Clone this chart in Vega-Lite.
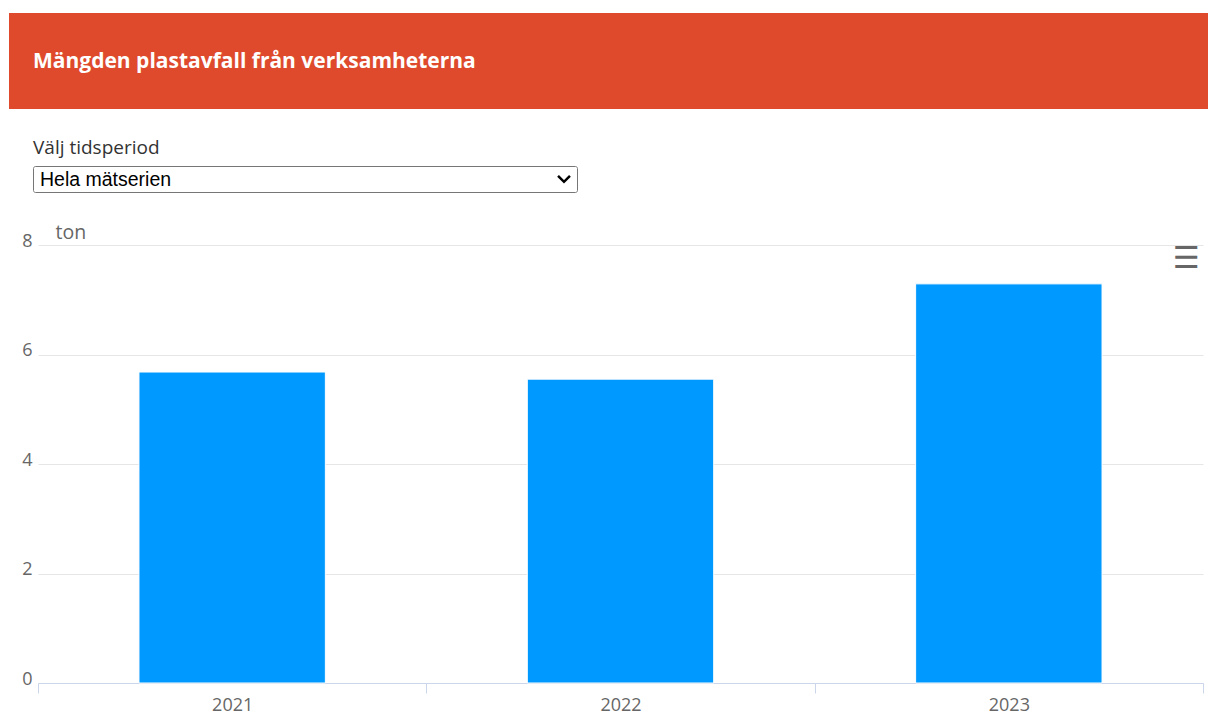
{
  "$schema": "https://vega.github.io/schema/vega-lite/v6.json",
  "background": "white",
  "padding": {"left": 9, "top": 13, "right": 0, "bottom": 0},
  "bounds": "flush",
  "spacing": 57,
  "config": {"view": {"stroke": null}, "font": "Open Sans"},
  "vconcat": [
    {
      "width": 1199,
      "height": 96,
      "view": {"fill": "#DE4A2B", "stroke": null},
      "data": {"values": [{"label": "Mängden plastavfall från verksamheterna"}]},
      "mark": {"type": "text", "align": "left", "baseline": "middle", "dx": 24, "dy": 1, "color": "white", "fontSize": 21, "fontWeight": "bold", "font": "Open Sans"},
      "encoding": {
        "x": {"field": "label", "type": "nominal", "axis": null, "bandPosition": 0, "scale": {"type": "band", "paddingInner": 0, "paddingOuter": 0}},
        "text": {"field": "label"}
      }
    },
    {
      "vconcat": [
        {
          "hconcat": [
            {"width": 24, "height": 26, "data": {"values": []}, "mark": "text"},
            {
              "width": 544,
              "height": 26,
              "view": {"stroke": "#767676", "strokeWidth": 1, "cornerRadius": 2, "fill": "white"},
              "title": {"text": "Välj tidsperiod", "anchor": "start", "frame": "group", "fontSize": 19, "font": "Open Sans", "fontWeight": "normal", "color": "#333333", "offset": 8},
              "data": {"values": [{"val": "Hela mätserien"}]},
              "layer": [
                {
                  "mark": {"type": "text", "align": "left", "baseline": "middle", "dx": 7, "dy": 1, "font": "Liberation Sans", "fontSize": 19.5, "color": "black"},
                  "encoding": {
                    "x": {"field": "val", "type": "nominal", "axis": null, "bandPosition": 0, "scale": {"type": "band", "paddingInner": 0, "paddingOuter": 0}},
                    "text": {"field": "val"}
                  }
                },
                {
                  "mark": {"type": "point", "shape": "M-0.85,-0.45L0,0.4L0.85,-0.45", "filled": false, "stroke": "black", "strokeWidth": 2.5, "size": 196, "opacity": 1, "xOffset": -13},
                  "encoding": {
                    "x": {"field": "val", "type": "nominal", "axis": null, "bandPosition": 1, "scale": {"type": "band", "paddingInner": 0, "paddingOuter": 0}}
                  }
                }
              ]
            }
          ],
          "spacing": 0,
          "bounds": "flush"
        },
        {
          "hconcat": [
            {"width": 29, "height": 26, "data": {"values": []}, "mark": "text"},
            {
              "width": 1165,
              "height": 438,
              "title": {"text": "☰", "anchor": "end", "frame": "group", "font": "DejaVu Sans", "fontSize": 30, "fontWeight": "bold", "color": "#666666", "offset": -52, "dx": -3},
              "data": {"values": [
                {"year": "2021", "ton": 5.68},
                {"year": "2022", "ton": 5.55},
                {"year": "2023", "ton": 7.29}
              ]},
              "mark": {"type": "bar", "color": "#0099FF", "stroke": "white", "strokeWidth": 1, "width": {"band": 0.48}},
              "encoding": {
                "x": {
                  "field": "year", "type": "ordinal",
                  "scale": {"paddingInner": 0, "paddingOuter": 0},
                  "axis": {"title": null, "labelAngle": 0, "domainColor": "#ccd6eb", "tickColor": "#ccd6eb", "tickSize": 10, "tickBand": "extent", "labelColor": "#666666", "labelFontSize": 18, "labelFont": "Open Sans", "labelPadding": 3, "grid": false}
                },
                "y": {
                  "field": "ton", "type": "quantitative",
                  "scale": {"domain": [0, 8], "nice": false},
                  "axis": {"values": [0, 2, 4, 6, 8], "domain": false, "ticks": false, "grid": true, "gridColor": "#e6e6e6", "labelColor": "#666666", "labelFontSize": 18, "labelFont": "Open Sans", "labelPadding": 6, "labelOffset": -4, "title": "ton", "titleAngle": 0, "titleX": 17, "titleY": -13, "titleAlign": "left", "titleBaseline": "middle", "titleColor": "#666666", "titleFontSize": 19.5, "titleFont": "Open Sans", "titleFontWeight": "normal"}
                }
              }
            }
          ],
          "spacing": 0,
          "bounds": "flush"
        }
      ],
      "spacing": 79,
      "bounds": "flush"
    }
  ]
}
